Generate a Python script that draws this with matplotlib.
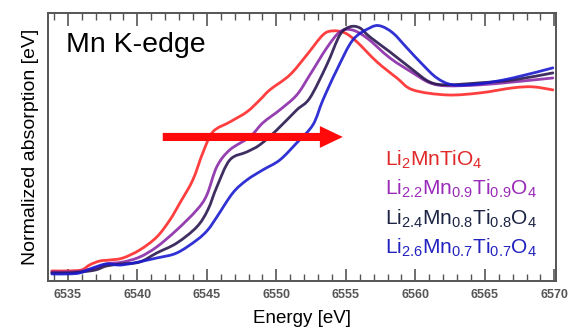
import matplotlib
matplotlib.use('Agg')
import matplotlib.pyplot as plt
from matplotlib.path import Path
from matplotlib.patches import PathPatch
from matplotlib.ticker import MultipleLocator, NullLocator
import numpy as np

plt.rcParams['font.family'] = ['Liberation Sans', 'DejaVu Sans']
plt.rcParams['mathtext.fontset'] = 'custom'
plt.rcParams['mathtext.rm'] = 'Liberation Sans'
plt.rcParams['mathtext.it'] = 'Liberation Sans'

# ── data (energy in eV, normalized absorption) ──
e_red = [6533.85, 6535.0, 6536.0, 6536.58, 6537.30, 6538.02, 6538.96, 6540.18,
         6541.40, 6542.34, 6543.06, 6543.99, 6544.71, 6545.43, 6546.65, 6547.88,
         6548.81, 6549.53, 6550.97, 6552.19, 6553.35, 6554.06, 6554.93, 6555.79,
         6557.23, 6558.67, 6559.82, 6562.27, 6564.64, 6567.01, 6568.45, 6569.89]
a_red = [0.015, 0.015, 0.020, 0.045, 0.064, 0.069, 0.079, 0.119,
         0.183, 0.267, 0.351, 0.465, 0.599, 0.703, 0.752, 0.802,
         0.861, 0.911, 0.985, 1.084, 1.183, 1.203, 1.193, 1.149,
         1.050, 0.970, 0.911, 0.886, 0.896, 0.921, 0.926, 0.911]

e_pur = [6533.85, 6535.0, 6536.0, 6537.01, 6537.81, 6538.96, 6540.18, 6541.40,
         6542.84, 6544.28, 6545.0, 6545.72, 6546.65, 6548.09, 6549.03, 6550.25,
         6551.47, 6552.41, 6553.63, 6554.57, 6555.43, 6556.51, 6558.17, 6559.82,
         6561.04, 6562.27, 6564.64, 6567.01, 6569.89]
a_pur = [0.010, 0.010, 0.015, 0.030, 0.050, 0.059, 0.084, 0.134,
         0.218, 0.317, 0.391, 0.531, 0.614, 0.678, 0.748, 0.812,
         0.886, 0.985, 1.119, 1.198, 1.208, 1.168, 1.069, 0.995,
         0.946, 0.931, 0.936, 0.950, 0.970]

e_drk = [6533.85, 6535.0, 6536.0, 6537.01, 6537.81, 6538.96, 6540.18, 6541.40,
         6542.84, 6544.28, 6545.07, 6545.72, 6546.65, 6547.88, 6548.81, 6550.04,
         6551.47, 6552.41, 6553.63, 6554.57, 6555.29, 6556.0, 6556.73, 6558.17,
         6559.82, 6561.04, 6562.27, 6564.64, 6567.01, 6569.89]
a_drk = [0.005, 0.005, 0.010, 0.020, 0.040, 0.050, 0.059, 0.104,
         0.153, 0.233, 0.317, 0.431, 0.564, 0.604, 0.639, 0.713,
         0.812, 0.871, 1.035, 1.183, 1.223, 1.218, 1.173, 1.099,
         1.010, 0.950, 0.936, 0.946, 0.960, 0.995]

e_blu = [6533.85, 6535.0, 6535.86, 6536.80, 6537.81, 6538.96, 6541.40, 6542.84,
         6544.28, 6545.07, 6545.72, 6546.87, 6547.88, 6549.03, 6550.25, 6551.47,
         6552.63, 6553.35, 6554.35, 6555.50, 6556.73, 6557.45, 6558.38, 6559.39,
         6560.54, 6561.55, 6562.70, 6564.64, 6567.01, 6569.89]
a_blu = [0.0, 0.0, 0.005, 0.030, 0.050, 0.045, 0.079, 0.104,
         0.168, 0.218, 0.282, 0.401, 0.465, 0.515, 0.564, 0.649,
         0.738, 0.861, 1.010, 1.158, 1.218, 1.228, 1.193, 1.119,
         1.035, 0.970, 0.936, 0.941, 0.970, 1.020]

labels = [r'Li$_2$MnTiO$_4$',
          r'Li$_{2.2}$Mn$_{0.9}$Ti$_{0.9}$O$_4$',
          r'Li$_{2.4}$Mn$_{0.8}$Ti$_{0.8}$O$_4$',
          r'Li$_{2.6}$Mn$_{0.7}$Ti$_{0.7}$O$_4$']
line_colors = ['#ff2a2a', '#8a2aa8', '#2a1850', '#1a1ad0']
text_colors = ['#e02828', '#9a2ab8', '#1c2444', '#2222c0']

arrow_start, arrow_end, arrow_y = 6541.83, 6554.78, 0.678


def smooth_path(x, y):
    """Catmull-Rom style bezier path through the read points."""
    p = np.column_stack([x, y])
    verts = [p[0]]
    codes = [Path.MOVETO]
    for i in range(len(p) - 1):
        p0 = p[i - 1] if i > 0 else p[i]
        p3 = p[i + 2] if i + 2 < len(p) else p[i + 1]
        c1 = p[i] + (p[i + 1] - p0) / 6.0
        c2 = p[i + 1] - (p3 - p[i]) / 6.0
        verts += [c1, c2, p[i + 1]]
        codes += [Path.CURVE4] * 3
    return Path(verts, codes)


fig = plt.figure(figsize=(5.69, 3.31), dpi=100)
fig.patch.set_facecolor('white')
ax = fig.add_axes([0.084, 0.151, 0.893, 0.810])

series = [(e_red, a_red), (e_pur, a_pur), (e_drk, a_drk), (e_blu, a_blu)]
for (e, a), c in zip(series, line_colors):
    ax.add_patch(PathPatch(smooth_path(e, a), facecolor='none', edgecolor=c,
                           lw=2.0, alpha=0.9, capstyle='round',
                           joinstyle='round', zorder=3))

ax.arrow(arrow_start, arrow_y, arrow_end - arrow_start, 0,
         width=0.04, head_width=0.108, head_length=1.65,
         length_includes_head=True, color='#ff0a0a', lw=0, zorder=5)

ax.set_xlim(6533.56, 6570.11)
ax.set_ylim(-0.035, 1.292)

ax.xaxis.set_major_locator(MultipleLocator(5))
ax.xaxis.set_minor_locator(MultipleLocator(1))
ax.yaxis.set_major_locator(NullLocator())
ax.tick_params(axis='x', which='both', direction='in', top=True, bottom=True,
               color='#555555', labelsize=9, labelcolor='#555555', pad=6)
ax.tick_params(axis='x', which='major', length=9, width=1.2)
ax.tick_params(axis='x', which='minor', length=5, width=1.0)
for lab in ax.get_xticklabels():
    lab.set_fontweight('bold')
for sp in ax.spines.values():
    sp.set_color('#555555')
    sp.set_linewidth(1.4)

ax.set_xlabel('Energy [eV]', fontsize=13.5, labelpad=6)
ax.set_ylabel('Normalized absorption [eV]', fontsize=14, labelpad=6)

ax.text(0.036, 0.88, 'Mn K-edge', transform=ax.transAxes, fontsize=20.5,
        ha='left', va='center', color='black')

for i, (lab, c) in enumerate(zip(labels, text_colors)):
    ax.text(0.664, 0.452 - i * 0.11, lab, transform=ax.transAxes,
            fontsize=15, ha='left', va='center', color=c)

fig.savefig('out.png', dpi=100, facecolor='white')
